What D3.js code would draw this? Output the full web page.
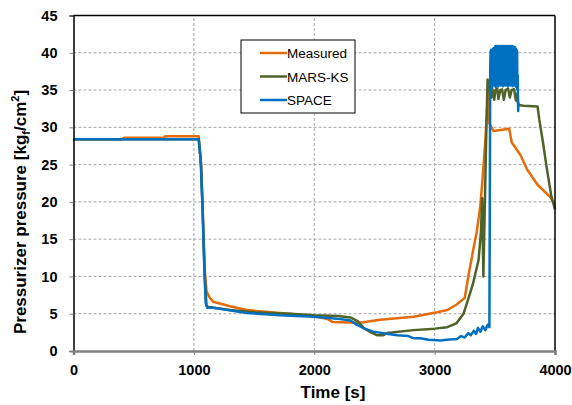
<!DOCTYPE html>
<html>
<head>
<meta charset="utf-8">
<script src="https://cdn.jsdelivr.net/npm/d3@7"></script>
<style>
  body { margin: 0; background: #fff; }
  text { font-family: "Liberation Sans", Arial, sans-serif; }
</style>
</head>
<body>
<div id="chart"></div>
<script>
// tick values
const xTicks = [0, 1000, 2000, 3000, 4000];
const yTicks = [0, 5, 10, 15, 20, 25, 30, 35, 40, 45];

// series as [time, pressure]
const measured = [
  [0, 28.4], [400, 28.4], [420, 28.6], [750, 28.6], [760, 28.8], [1040, 28.8],
  [1060, 25], [1075, 18], [1090, 11], [1105, 8], [1130, 7.2], [1160, 6.6],
  [1300, 6], [1440, 5.5], [1715, 5.1], [1993, 4.7], [2110, 4.3], [2150, 3.9],
  [2380, 3.8], [2548, 4.2], [2825, 4.6], [3020, 5.2], [3105, 5.5], [3180, 6.2],
  [3250, 7.1], [3280, 10], [3320, 13.5], [3350, 16], [3380, 19.5], [3400, 23.5],
  [3420, 28], [3435, 32], [3445, 35.5], [3455, 30.5], [3490, 29.5], [3620, 29.8],
  [3640, 28], [3713, 26.3], [3770, 24.3], [3855, 22.3], [3963, 20.6], [4000, 19.6]
];

const marsKs = [
  [0, 28.4], [1040, 28.4], [1060, 25], [1075, 18], [1090, 10], [1105, 6.1],
  [1120, 5.9], [1300, 5.5], [1500, 5.2], [1800, 5], [2000, 4.8], [2200, 4.7],
  [2300, 4.5], [2360, 4], [2410, 3.1], [2470, 2.5], [2525, 2.1], [2570, 2.1],
  [2605, 2.4], [2825, 2.8], [3000, 3], [3105, 3.2], [3180, 3.7], [3240, 5],
  [3280, 7], [3320, 9.1], [3365, 12.2], [3385, 16], [3395, 20.5], [3405, 10],
  [3420, 22], [3430, 30], [3440, 36.4], [3455, 35], [3470, 34], [3480, 35.1],
  [3495, 33.7], [3505, 35], [3520, 35.2], [3530, 33.8], [3545, 35], [3560, 35.1],
  [3575, 33.7], [3590, 35], [3610, 35.2], [3625, 34], [3640, 35], [3660, 35.1],
  [3675, 33.6], [3685, 34.5], [3695, 33], [3740, 32.9], [3855, 32.8], [3870, 31],
  [3900, 28], [3930, 24.7], [3970, 20.7], [4000, 19]
];

const space = [
  [0, 28.4], [1040, 28.4], [1055, 26], [1070, 20], [1085, 12], [1098, 6.5],
  [1110, 5.8], [1160, 5.8], [1440, 5.1], [1715, 4.8], [1993, 4.6], [2215, 4.3],
  [2300, 4.1], [2355, 3.5], [2420, 3], [2490, 2.6], [2600, 2.3], [2690, 2.1],
  [2780, 2], [2830, 1.7], [2880, 1.7], [2950, 1.5], [3050, 1.4], [3100, 1.5],
  [3185, 1.6], [3220, 2], [3250, 1.8], [3280, 2.4], [3300, 2.1], [3325, 2.7],
  [3345, 2.3], [3360, 3.1], [3380, 2.6], [3400, 3.3], [3420, 2.8], [3440, 3.5],
  [3455, 3.2], [3462, 38], [3465, 40.2], [3467.5, 35.5], [3470, 40.4], [3472.5, 36],
  [3475, 40.1], [3477.5, 35.3], [3480, 40.3], [3482.5, 36.2], [3485, 40.5], [3487.5, 35.8],
  [3490, 40.6], [3492.5, 36.5], [3495, 40.4], [3497.5, 35.6], [3500, 40.7], [3502.5, 36.1],
  [3505, 40.9], [3507.5, 35.4], [3510, 40.8], [3512.5, 36.3], [3515, 40.9], [3517.5, 35.7],
  [3520, 40.7], [3522.5, 36], [3525, 40.9], [3527.5, 35.5], [3530, 40.8], [3532.5, 36.4],
  [3535, 40.9], [3537.5, 35.9], [3540, 40.7], [3542.5, 36.2], [3545, 40.8], [3547.5, 35.6],
  [3550, 40.9], [3552.5, 36], [3555, 40.8], [3557.5, 35.8], [3560, 40.7], [3562.5, 36.3],
  [3565, 40.9], [3567.5, 35.5], [3570, 40.6], [3572.5, 36.1], [3575, 40.9], [3577.5, 35.7],
  [3580, 40.8], [3582.5, 36.2], [3585, 40.9], [3587.5, 35.6], [3590, 40.7], [3592.5, 36.4],
  [3595, 40.8], [3597.5, 35.8], [3600, 40.9], [3602.5, 36], [3605, 40.7], [3607.5, 35.5],
  [3610, 40.8], [3612.5, 36.3], [3615, 40.9], [3617.5, 35.7], [3620, 40.8], [3622.5, 36.1],
  [3625, 40.7], [3627.5, 35.6], [3630, 40.9], [3632.5, 36.2], [3635, 40.8], [3637.5, 35.9],
  [3640, 40.7], [3642.5, 36], [3645, 40.9], [3647.5, 35.5], [3650, 40.8], [3652.5, 36.3],
  [3655, 40.7], [3657.5, 35.8], [3660, 40.8], [3662.5, 36.1], [3665, 40.6], [3667.5, 35.6],
  [3670, 40.7], [3672.5, 36], [3675, 40.5], [3677.5, 35.4], [3680, 40.4], [3682.5, 35.8],
  [3685, 40.2], [3687.5, 35], [3690, 37], [3694, 32.2], [3697, 33.3]
];

const seriesNames = ["Measured", "MARS-KS", "SPACE"];
const seriesColors = ["#E46C0A", "#4F6228", "#0070C0"];
const allSeries = [measured, marsKs, space];

const width = 572, height = 405;
const margin = { top: 15.5, right: 17, bottom: 54, left: 73.5 };

const svg = d3.select("#chart").append("svg")
  .attr("width", width)
  .attr("height", height);

const x = d3.scaleLinear().domain([0, 4000]).range([margin.left, width - margin.right]);
const y = d3.scaleLinear().domain([0, 45]).range([height - margin.bottom, margin.top]);

// grid lines
svg.append("g")
  .selectAll("line")
  .data(yTicks.filter(d => d > 0 && d < 45))
  .enter().append("line")
  .attr("x1", x(0)).attr("x2", x(4000))
  .attr("y1", d => y(d)).attr("y2", d => y(d))
  .attr("stroke", "#a6a6a6")
  .attr("stroke-dasharray", "3,2");

svg.append("g")
  .selectAll("line")
  .data(xTicks.filter(d => d > 0 && d < 4000))
  .enter().append("line")
  .attr("x1", d => x(d)).attr("x2", d => x(d))
  .attr("y1", y(0)).attr("y2", y(45))
  .attr("stroke", "#a6a6a6")
  .attr("stroke-dasharray", "3,2");

// data lines
const line = d3.line().x(d => x(d[0])).y(d => y(d[1]));

svg.append("g")
  .selectAll("path")
  .data(allSeries)
  .enter().append("path")
  .attr("d", line)
  .attr("fill", "none")
  .attr("stroke", (d, i) => seriesColors[i])
  .attr("stroke-width", 2.5)
  .attr("stroke-linejoin", "round");

// frame top and right
svg.append("line")
  .attr("x1", x(0)).attr("x2", x(4000))
  .attr("y1", y(45)).attr("y2", y(45))
  .attr("stroke", "#000").attr("stroke-width", 1.5);
svg.append("line")
  .attr("x1", x(4000)).attr("x2", x(4000))
  .attr("y1", y(45)).attr("y2", y(0))
  .attr("stroke", "#000").attr("stroke-width", 1.5);

// axes
const yAxis = svg.append("g")
  .attr("transform", `translate(${x(0)},0)`)
  .call(d3.axisLeft(y).tickValues(yTicks).tickSize(4).tickPadding(12));
yAxis.select(".domain").attr("stroke", "#000").attr("stroke-width", 1.5);
yAxis.selectAll(".tick line").attr("stroke", "#808080");

const xAxis = svg.append("g")
  .attr("transform", `translate(0,${y(0)})`)
  .call(d3.axisBottom(x).tickValues(xTicks).tickFormat(d3.format("d")).tickSize(4).tickPadding(10));
xAxis.select(".domain").attr("stroke", "#808080").attr("stroke-width", 2.5);
xAxis.selectAll(".tick line").attr("stroke", "#808080");

svg.selectAll(".tick text")
  .attr("font-family", "Liberation Sans, Arial, sans-serif")
  .attr("font-size", 14.5)
  .attr("font-weight", "bold")
  .attr("fill", "#000");

// axis titles
svg.append("text")
  .attr("x", 333).attr("y", 398)
  .attr("text-anchor", "middle")
  .attr("font-size", 17).attr("font-weight", "bold")
  .text("Time [s]");

const yTitle = svg.append("text")
  .attr("transform", "translate(26,212) rotate(-90)")
  .attr("text-anchor", "middle")
  .attr("font-size", 17).attr("font-weight", "bold");
yTitle.append("tspan").text("Pressurizer pressure [kg");
yTitle.append("tspan").attr("font-size", 11).attr("dy", 4).text("f");
yTitle.append("tspan").attr("dy", -4).text("/cm");
yTitle.append("tspan").attr("font-size", 11).attr("dy", -7).text("2");
yTitle.append("tspan").attr("dy", 7).text("]");

// legend
const legend = svg.append("g").attr("transform", "translate(241,40)");
legend.append("rect")
  .attr("width", 114).attr("height", 73)
  .attr("fill", "#fff").attr("stroke", "#000").attr("stroke-width", 1);

const items = legend.selectAll(".item")
  .data(seriesNames)
  .enter().append("g")
  .attr("transform", (d, i) => `translate(0,${13 + i * 23.5})`);
items.append("line")
  .attr("x1", 19).attr("x2", 46)
  .attr("stroke", (d, i) => seriesColors[i])
  .attr("stroke-width", 2.5);
items.append("text")
  .attr("x", 46).attr("y", 5)
  .attr("font-size", 13.5)
  .text(d => d);
</script>
</body>
</html>
